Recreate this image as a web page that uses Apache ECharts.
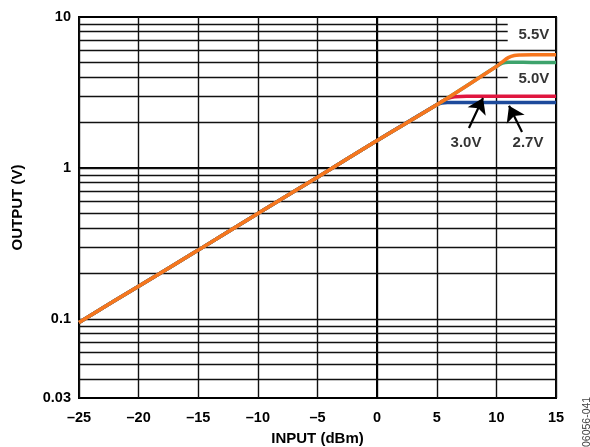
<!DOCTYPE html>
<html>
<head>
<meta charset="utf-8">
<script src="https://cdn.jsdelivr.net/npm/echarts@6/dist/echarts.min.js"></script>
<style>
html,body{margin:0;padding:0;background:#fff;}
#chart{width:590px;height:447px;}
</style>
</head>
<body>
<div id="chart"></div>
<script>
// ---- data (input dBm, output V) ----
const xTicks = [-25, -20, -15, -10, -5, 0, 5, 10, 15];
const yTickValues = [0.03, 0.1, 1, 10];
const yTickLabels = ['0.03', '0.1', '1', '10'];

const in55  = [-25, -20, -15, -10, -5, 0, 5, 10, 10.5, 11, 11.5, 12, 13, 15];
const out55 = [0.095, 0.165, 0.286, 0.50, 0.87, 1.52, 2.62, 4.7, 5.05, 5.38, 5.56, 5.6, 5.62, 5.62];

const in50  = [-25, -20, -15, -10, -5, 0, 5, 10, 10.5, 11, 11.5, 13, 15];
const out50 = [0.095, 0.165, 0.286, 0.50, 0.87, 1.52, 2.62, 4.7, 4.95, 5.02, 5.02, 5.0, 5.0];

const in30  = [-25, -20, -15, -10, -5, 0, 5, 5.5, 6, 6.5, 7.5, 10, 15];
const out30 = [0.095, 0.165, 0.286, 0.50, 0.87, 1.52, 2.62, 2.78, 2.9, 2.96, 2.99, 2.99, 2.99];

const in27  = [-25, -20, -15, -10, -5, 0, 5, 5.4, 5.9, 6.5, 10, 15];
const out27 = [0.095, 0.165, 0.286, 0.50, 0.87, 1.52, 2.62, 2.69, 2.72, 2.72, 2.72, 2.72];

const labelNames = ['5.5V', '5.0V', '3.0V', '2.7V'];
const labelX = [13.15, 13.15, 7.45, 12.65];
const labelV = [7.6, 3.88, 1.47, 1.47];

const arrowFrom = [[7.7, 1.84], [12.15, 1.73]];
const arrowTo   = [[8.88, 2.91], [11.06, 2.58]];

// grid line values (log decades)
const minorMults = [2, 3, 4, 5, 6, 7, 8, 9];
const decades = [0.01, 0.1, 1];
const cutValues = [9, 8, 7, 4];   // lines interrupted by the right-hand labels
const cutAt = 10.95;

// ---- helpers ----
const L = v => Math.log10(v);
const pairs = (xs, vs) => xs.map((x, i) => [x, L(vs[i])]);
const yMin = L(0.03), yMax = 1;

const gridLines = [];
decades.forEach(d => {
  minorMults.forEach(m => {
    const v = +(m * d).toPrecision(3);
    if (v <= 0.03 || v >= 10) return;
    const lv = L(v);
    const end = cutValues.includes(v) ? cutAt : 15;
    gridLines.push({coords: [[-25, lv], [end, lv]]});
  });
});
[0.1, 1].forEach(v => gridLines.push({coords: [[-25, L(v)], [15, L(v)]]}));

const FONT = 'Liberation Sans, Arial, sans-serif';

const chart = echarts.init(document.getElementById('chart'), null, {renderer: 'canvas'});

const curve = (name, xs, vs, color, z) => ({
  name, type: 'line', data: pairs(xs, vs), showSymbol: false, smooth: 0.3, z,
  lineStyle: {color, width: 3.5}
});

const option = {
  animation: false,
  backgroundColor: '#fff',
  grid: {left: 79, right: 34, top: 17, bottom: 49, containLabel: false, outerBoundsMode: 'none',
         show: true, borderColor: '#000', borderWidth: 2, backgroundColor: 'transparent'},
  xAxis: {
    type: 'value', min: -25, max: 15, interval: 5,
    name: 'INPUT (dBm)', nameLocation: 'middle', nameGap: 33,
    nameTextStyle: {fontFamily: FONT, fontWeight: 'bold', fontSize: 15, color: '#000'},
    axisLine: {show: true, lineStyle: {color: '#000', width: 2}},
    axisTick: {show: false},
    axisLabel: {
      margin: 12, fontFamily: FONT, fontWeight: 'bold', fontSize: 14.5, color: '#000',
      formatter: v => v < 0 ? '\u2013' + Math.abs(v) : String(v)
    },
    splitLine: {show: true, lineStyle: {color: '#111', width: 1.4}}
  },
  yAxis: {
    type: 'value', min: yMin, max: yMax,
    name: 'OUTPUT (V)', nameLocation: 'middle', nameGap: 54,
    nameTextStyle: {fontFamily: FONT, fontWeight: 'bold', fontSize: 15, color: '#000'},
    axisLine: {show: true, lineStyle: {color: '#000', width: 2}},
    axisTick: {show: false},
    axisLabel: {
      margin: 8, fontFamily: FONT, fontWeight: 'bold', fontSize: 14.5, color: '#000',
      customValues: yTickValues.map(L),
      formatter: v => {
        for (let i = 0; i < yTickValues.length; i++) {
          if (Math.abs(L(yTickValues[i]) - v) < 1e-6) return yTickLabels[i];
        }
        return '';
      }
    },
    splitLine: {show: false}
  },
  series: [
    {
      type: 'lines', coordinateSystem: 'cartesian2d', z: 1, silent: true,
      lineStyle: {color: '#111', width: 1.4, opacity: 1},
      data: gridLines
    },
    curve('2.7V', in27, out27, '#1D4A9B', 3),
    curve('3.0V', in30, out30, '#E0163F', 3),
    curve('5.0V', in50, out50, '#3DA36C', 3),
    curve('5.5V', in55, out55, '#F7761E', 4),
    {
      type: 'scatter', z: 5, silent: true, symbolSize: 1,
      itemStyle: {color: 'rgba(0,0,0,0)'},
      data: labelNames.map((n, i) => ({value: [labelX[i], L(labelV[i])], name: n})),
      label: {show: true, position: 'inside', formatter: p => p.name,
              fontFamily: FONT, fontWeight: 'bold', fontSize: 15, color: '#000'},
      markLine: {
        silent: true, symbol: ['none', 'arrow'], symbolSize: 15, animation: false,
        label: {show: false},
        lineStyle: {color: '#000', width: 2.2, type: 'solid'},
        data: arrowFrom.map((f, i) => [{coord: [f[0], L(f[1])]}, {coord: [arrowTo[i][0], L(arrowTo[i][1])]}])
      }
    }
  ],
  graphic: [{
    type: 'text', x: 587, y: 447, rotation: Math.PI / 2,
    style: {text: '06056-041', fontFamily: FONT, fontSize: 10.5, fill: '#444', textAlign: 'left', textVerticalAlign: 'middle'}
  }]
};
chart.setOption(option);
</script>
</body>
</html>
